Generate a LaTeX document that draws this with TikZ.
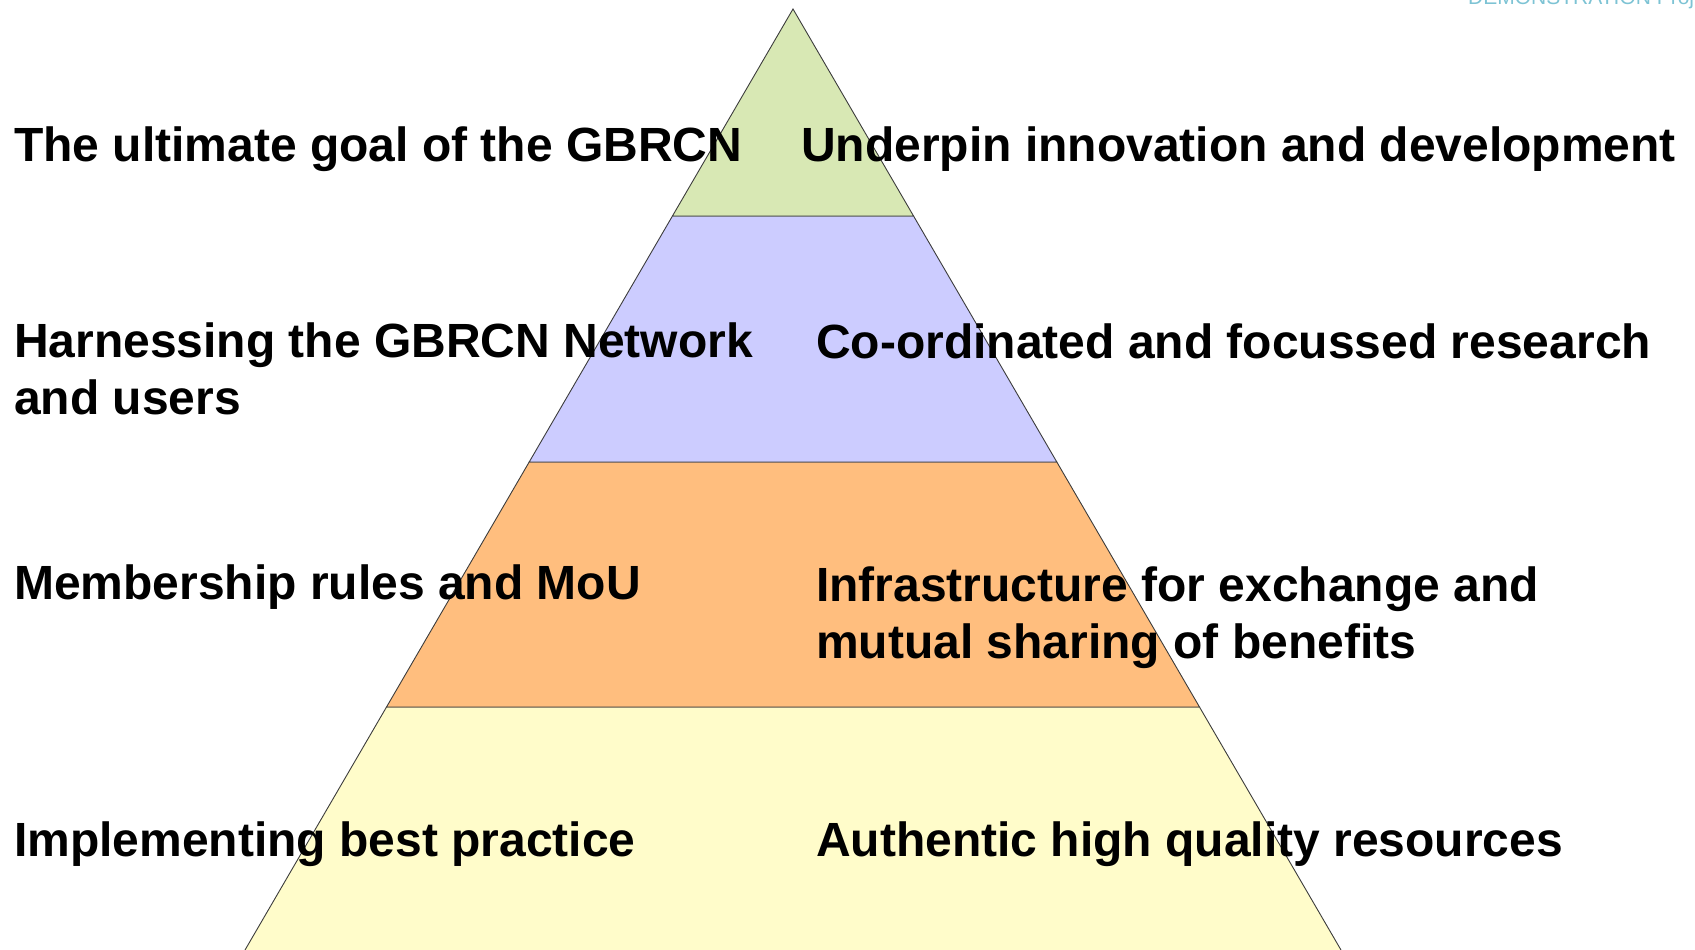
\documentclass[tikz,border=0pt]{standalone}
\usepackage{fontspec}
\setmainfont{Liberation Sans}
\usetikzlibrary{calc}

\definecolor{tiergreen}{RGB}{216,232,180}
\definecolor{tierviolet}{RGB}{204,204,255}
\definecolor{tierorange}{RGB}{255,190,126}
\definecolor{tieryellow}{RGB}{255,252,202}
\definecolor{edgegray}{RGB}{60,60,60}
\definecolor{bannerteal}{RGB}{125,195,212}

\tikzset{
  tier/.style={draw=edgegray, line width=0.9pt, line join=miter},
  label/.style={anchor=base west, inner sep=0pt, align=left,
    font=\fontsize{48}{57}\selectfont\bfseries, text=black},
  banner/.style={anchor=base west, inner sep=0pt,
    font=\fontsize{21}{25}\selectfont, text=bannerteal},
}

\begin{document}
\begin{tikzpicture}[x=1pt, y=-1pt]
  \useasboundingbox (0,0) rectangle (1695,950);
  \clip (0,0) rectangle (1695,950);

  % pyramid outline points
  \coordinate (apex) at (793,9);
  \coordinate (bl) at (245,950);
  \coordinate (br) at (1341,950);

  % tier boundaries along the two sides
  \coordinate (l1) at ($(apex)!0.2200!(bl)$);
  \coordinate (r1) at ($(apex)!0.2200!(br)$);
  \coordinate (l2) at ($(apex)!0.4814!(bl)$);
  \coordinate (r2) at ($(apex)!0.4814!(br)$);
  \coordinate (l3) at ($(apex)!0.7418!(bl)$);
  \coordinate (r3) at ($(apex)!0.7418!(br)$);

  % tiers, bottom to top
  \fill[tieryellow] (l3) -- (r3) -- (br) -- (bl) -- cycle;
  \draw[tier] (bl) -- (l3) -- (r3) -- (br);
  \filldraw[tier, fill=tierorange] (l2) -- (r2) -- (r3) -- (l3) -- cycle;
  \filldraw[tier, fill=tierviolet] (l1) -- (r1) -- (r2) -- (l2) -- cycle;
  \filldraw[tier, fill=tiergreen] (apex) -- (r1) -- (l1) -- cycle;

  % banner running off the top edge
  \node[banner] (banner) at (1468,5) {DEMONSTRATION Project};

  % left column (multi-line nodes sit on their last baseline)
  \node[label] (goal) at (14,161) {The ultimate goal of the GBRCN};
  \node[label] (network) at (14,414) {Harnessing the GBRCN Network\\and users};
  \node[label] (members) at (14,599) {Membership rules and MoU};
  \node[label] (practice) at (14,856) {Implementing best practice};

  % right column
  \node[label] (innovation) at (801,161) {Underpin innovation and development};
  \node[label] (research) at (816,358) {Co-ordinated and focussed research};
  \node[label] (exchange) at (816,658) {Infrastructure for exchange and\\mutual sharing of benefits};
  \node[label] (resources) at (816,856) {Authentic high quality resources};
\end{tikzpicture}
\end{document}
